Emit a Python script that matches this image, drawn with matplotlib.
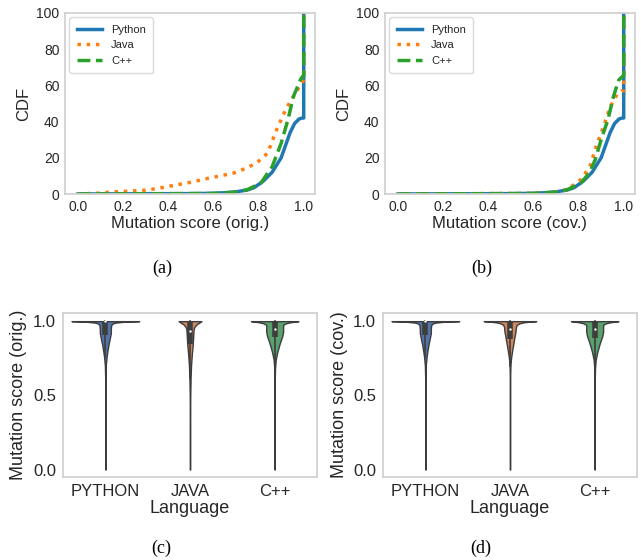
import matplotlib
matplotlib.use("Agg")
import matplotlib.pyplot as plt
import numpy as np

# ---- CDF curves (a) and (b) ----
langs = ["Python", "Java", "C++"]

py_x = [0.0, 0.5, 0.6, 0.65, 0.7, 0.75, 0.78, 0.82, 0.86, 0.9, 0.92, 0.94, 0.96, 0.98, 0.995, 1.0, 1.0]
py_y = [0, 0.2, 0.4, 0.7, 1.2, 2.2, 3.5, 7, 12, 20, 27, 34, 39, 41.5, 42, 42, 100]

java_orig_x = [0.0, 0.1, 0.14, 0.2, 0.29, 0.35, 0.435, 0.5, 0.57, 0.63, 0.69, 0.74, 0.79, 0.84, 0.88, 0.92, 0.963, 0.99, 1.0, 1.0]
java_orig_y = [0, 0.5, 1, 1.4, 2, 3, 5, 6.5, 8.5, 10, 11.6, 14, 17, 22.6, 35.5, 46.6, 55.8, 61, 63, 100]

cpp_orig_x = [0.0, 0.6, 0.7, 0.75, 0.81, 0.86, 0.9, 0.93, 0.955, 0.985, 0.995, 1.0, 1.0]
cpp_orig_y = [0, 0.3, 1, 2.4, 6, 15, 28, 41, 54, 63, 65, 65, 100]

java_cov_x = [0.0, 0.6, 0.7, 0.75, 0.81, 0.85, 0.88, 0.91, 0.94, 0.97, 0.99, 1.0, 1.0]
java_cov_y = [0, 0.3, 1, 2.4, 8, 15, 27, 37, 48, 55, 57, 57, 100]

cpp_cov_x = [0.0, 0.6, 0.7, 0.75, 0.81, 0.85, 0.874, 0.9, 0.93, 0.955, 0.978, 0.995, 1.0, 1.0]
cpp_cov_y = [0, 0.3, 1, 2.4, 6, 12, 19, 30, 41, 54, 63, 65, 65, 100]

# ---- violin profiles (score level -> half width) (c) and (d) ----
vio_labels = ["PYTHON", "JAVA", "C++"]

py_vy = [0.0, 0.6, 0.7, 0.76, 0.80, 0.85, 0.89, 0.92, 0.95, 0.975, 0.985, 0.99, 0.995, 0.998, 1.0]
py_vw = [0.001, 0.001, 0.005, 0.015, 0.025, 0.04, 0.055, 0.065, 0.065, 0.07, 0.09, 0.12, 0.2, 0.3, 0.4]

java_orig_vy = [0.0, 0.3, 0.5, 0.62, 0.7, 0.78, 0.84, 0.9, 0.94, 0.96, 0.98, 0.99, 1.0]
java_orig_vw = [0.001, 0.001, 0.003, 0.007, 0.012, 0.022, 0.032, 0.038, 0.042, 0.05, 0.08, 0.11, 0.135]

java_cov_vy = [0.0, 0.6, 0.7, 0.75, 0.8, 0.85, 0.9, 0.93, 0.96, 0.975, 0.985, 0.992, 0.997, 1.0]
java_cov_vw = [0.001, 0.001, 0.005, 0.012, 0.025, 0.04, 0.055, 0.065, 0.07, 0.08, 0.11, 0.16, 0.24, 0.31]

cpp_vy = [0.0, 0.6, 0.68, 0.74, 0.79, 0.85, 0.90, 0.93, 0.96, 0.975, 0.985, 0.992, 0.997, 1.0]
cpp_vw = [0.001, 0.001, 0.004, 0.012, 0.03, 0.06, 0.09, 0.1, 0.1, 0.1, 0.13, 0.18, 0.24, 0.28]

# quartiles / whisker ends for the inner boxes: python, java, c++
orig_q1 = [0.905, 0.847, 0.89]
orig_med = [1.0, 0.935, 0.945]
orig_q3 = [1.0, 1.0, 1.0]
orig_wlo = [0.76, 0.62, 0.725]
cov_q1 = [0.905, 0.878, 0.885]
cov_med = [1.0, 0.948, 0.947]
cov_q3 = [1.0, 1.0, 1.0]
cov_wlo = [0.76, 0.70, 0.72]

line_colors = ["#1f77b4", "#ff7f0e", "#2ca02c"]
line_styles = ["-", ":", "--"]
vio_colors = ["#5274ab", "#d0875d", "#5aa06c"]
gray = "#3d3d3d"

plt.rcParams["font.family"] = ["Liberation Sans", "DejaVu Sans"]
plt.rcParams["text.color"] = "#262626"
plt.rcParams["axes.labelcolor"] = "#262626"
plt.rcParams["xtick.color"] = "#262626"
plt.rcParams["ytick.color"] = "#262626"
plt.rcParams["axes.edgecolor"] = "#d0d0d0"
plt.rcParams["axes.linewidth"] = 1.25
plt.rcParams["xtick.major.size"] = 0
plt.rcParams["ytick.major.size"] = 0

fig = plt.figure(figsize=(6.41, 5.6), dpi=100)


def cdf_panel(rect, curves, xlabel):
    ax = fig.add_axes(rect)
    for (xs, ys), lab, c, ls in zip(curves, langs, line_colors, line_styles):
        ax.plot(xs, ys, color=c, linestyle=ls, linewidth=2.5, label=lab)
    ax.set_xlim(-0.057, 1.05)
    ax.set_ylim(0, 100)
    ax.set_xticks([0.0, 0.2, 0.4, 0.6, 0.8, 1.0])
    ax.set_yticks([0, 20, 40, 60, 80, 100])
    ax.tick_params(labelsize=10, pad=4)
    ax.set_xlabel(xlabel, fontsize=12, labelpad=2)
    ax.set_ylabel("CDF", fontsize=12, labelpad=4)
    ax.legend(loc="upper left", fontsize=8, frameon=True, edgecolor="#d0d0d0",
              handlelength=2.3, borderpad=0.65, handletextpad=0.8,
              borderaxespad=0.4)
    return ax


def violin_panel(rect, profiles, q1, med, q3, wlo, ylabel):
    ax = fig.add_axes(rect)
    for i, ((vy, vw), c) in enumerate(zip(profiles, vio_colors)):
        vy = np.array(vy)
        vw = np.array(vw)
        ax.fill_betweenx(vy, i - vw, i + vw, facecolor=c, edgecolor=gray,
                         linewidth=1.0, zorder=2)
        ax.plot([i, i], [wlo[i], q3[i]], color=gray, linewidth=1.2, zorder=3)
        ax.plot([i, i], [q1[i], q3[i]], color=gray, linewidth=4,
                solid_capstyle="butt", zorder=3)
        ax.scatter([i], [med[i]], s=3, color="white", linewidths=0, zorder=4)
    ax.set_xlim(-0.5, 2.5)
    ax.set_ylim(-0.05, 1.055)
    ax.set_xticks(range(len(vio_labels)))
    ax.set_xticklabels(vio_labels)
    ax.set_yticks([0.0, 0.5, 1.0])
    ax.tick_params(labelsize=12, pad=5)
    ax.set_xlabel("Language", fontsize=13, labelpad=1)
    ax.set_ylabel(ylabel, fontsize=13, labelpad=4)
    return ax


W, H = 641, 560


def rect(l, r, t, b):
    return [l / W, (H - b) / H, (r - l) / W, (b - t) / H]


cdf_panel(rect(65, 315, 13, 194),
          [(py_x, py_y), (java_orig_x, java_orig_y), (cpp_orig_x, cpp_orig_y)],
          "Mutation score (orig.)")
cdf_panel(rect(385, 635, 13, 194),
          [(py_x, py_y), (java_cov_x, java_cov_y), (cpp_cov_x, cpp_cov_y)],
          "Mutation score (cov.)")

violin_panel(rect(63, 317, 313, 477),
             [(py_vy, py_vw), (java_orig_vy, java_orig_vw), (cpp_vy, cpp_vw)],
             orig_q1, orig_med, orig_q3, orig_wlo, "Mutation score (orig.)")
violin_panel(rect(383, 637, 313, 477),
             [(py_vy, py_vw), (java_cov_vy, java_cov_vw), (cpp_vy, cpp_vw)],
             cov_q1, cov_med, cov_q3, cov_wlo, "Mutation score (cov.)")

captions = ["(a)", "(b)", "(c)", "(d)"]
cap_pos = [(162, 268), (482, 268), (161, 548), (481, 548)]
for cap, (cx, cy) in zip(captions, cap_pos):
    fig.text(cx / W, 1 - cy / H, cap, ha="center", va="center", fontsize=13,
             family=["Liberation Serif", "DejaVu Serif"], color="black")

fig.savefig("out.png", dpi=100)
